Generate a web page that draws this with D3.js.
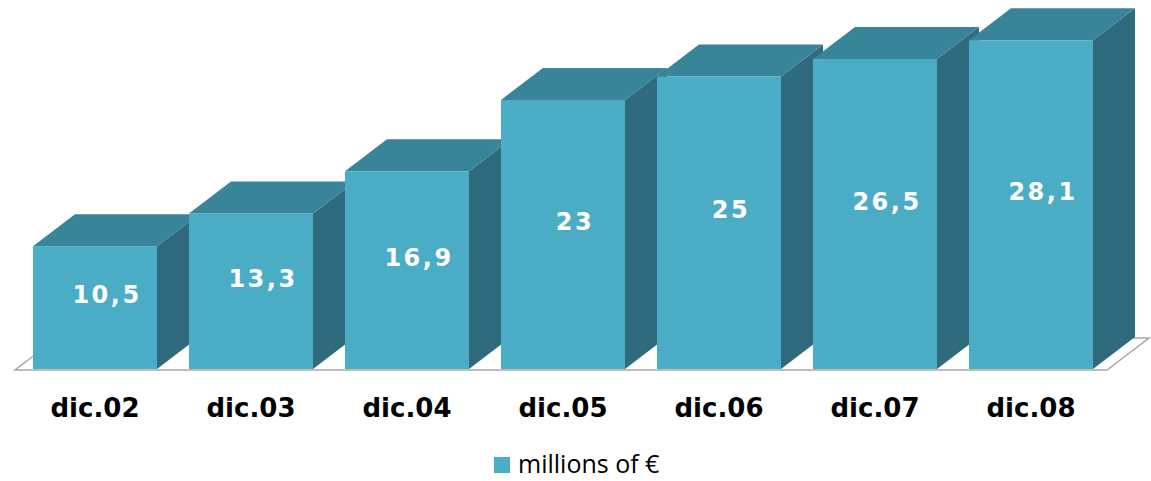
<!DOCTYPE html>
<html>
<head>
<meta charset="utf-8">
<script src="https://cdn.jsdelivr.net/npm/d3@7"></script>
<style>
  html, body { margin: 0; padding: 0; background: #ffffff; }
  svg { display: block; }
</style>
</head>
<body>
<svg id="chart" width="1151" height="481"></svg>
<script>
// Yearly totals, millions of euros
const categories = ["dic.02", "dic.03", "dic.04", "dic.05", "dic.06", "dic.07", "dic.08"];
const values = [10.5, 13.3, 16.9, 23, 25, 26.5, 28.1];
const valueLabels = ["10,5", "13,3", "16,9", "23", "25", "26,5", "28,1"];
const seriesName = "millions of €";

const W = 1151, H = 481;
const baseY = 369;           // floor line (value 0)
const depthX = 42, depthY = 32; // oblique depth offset of the 3D boxes

const colors = { front: "#4BACC6", top: "#388498", side: "#306B7D" };

const svg = d3.select("#chart");

const x = d3.scaleBand()
  .domain(categories)
  .range([17, 1109])
  .paddingInner(0.205)
  .paddingOuter(0.1025);

const y = d3.scaleLinear().domain([0, 30]).range([baseY, 18]);

// Floor plate
const fl = x.range()[0] - 2, fr = x.range()[1] - 2;
svg.append("polygon")
  .attr("points", [
    [fl, baseY + 1], [fr, baseY + 1],
    [fr + depthX, baseY + 1 - depthY], [fl + depthX, baseY + 1 - depthY]
  ].map(p => p.join(",")).join(" "))
  .attr("fill", "#ffffff")
  .attr("stroke", "#a8a8a8")
  .attr("stroke-width", 1.5);

const data = categories.map((c, i) => ({ cat: c, value: values[i], label: valueLabels[i] }));

const bars = svg.append("g").selectAll("g.bar")
  .data(data)
  .join("g")
  .attr("class", "bar");

// right side face
bars.append("polygon")
  .attr("fill", colors.side)
  .attr("points", d => {
    const x1 = x(d.cat) + x.bandwidth(), t = y(d.value);
    return [[x1, t], [x1 + depthX, t - depthY], [x1 + depthX, baseY - depthY], [x1, baseY]]
      .map(p => p.join(",")).join(" ");
  });

// top face
bars.append("polygon")
  .attr("fill", colors.top)
  .attr("points", d => {
    const x0 = x(d.cat), x1 = x0 + x.bandwidth(), t = y(d.value);
    return [[x0, t], [x0 + depthX, t - depthY], [x1 + depthX, t - depthY], [x1, t]]
      .map(p => p.join(",")).join(" ");
  });

// front face
bars.append("rect")
  .attr("fill", colors.front)
  .attr("x", d => x(d.cat))
  .attr("y", d => y(d.value))
  .attr("width", x.bandwidth())
  .attr("height", d => baseY - y(d.value));

// value labels
bars.append("text")
  .attr("x", d => x(d.cat) + x.bandwidth() / 2 + 12)
  .attr("y", d => (y(d.value) + baseY) / 2 - 13)
  .attr("dy", "0.36em")
  .attr("text-anchor", "middle")
  .attr("fill", "#ffffff")
  .attr("font-family", "'DejaVu Sans', Verdana, sans-serif")
  .attr("font-weight", "bold")
  .attr("font-size", 24)
  .attr("letter-spacing", 2.5)
  .text(d => d.label);

// category axis
const xAxis = svg.append("g")
  .attr("transform", `translate(0,${baseY})`)
  .call(d3.axisBottom(x).tickSize(0));
xAxis.select(".domain").remove();
xAxis.selectAll("text")
  .attr("y", 48)
  .attr("dy", "0")
  .attr("fill", "#000000")
  .attr("font-family", "'DejaVu Sans', Verdana, sans-serif")
  .attr("font-weight", "bold")
  .attr("font-size", 26);

// legend
const legend = svg.append("g").attr("transform", "translate(494,457)");
legend.append("rect")
  .attr("width", 16).attr("height", 16)
  .attr("fill", colors.front);
legend.append("text")
  .attr("x", 24).attr("y", 16)
  .attr("fill", "#000000")
  .attr("font-family", "'Open Sans', sans-serif")
  .attr("font-size", 25)
  .text(seriesName);
</script>
</body>
</html>
